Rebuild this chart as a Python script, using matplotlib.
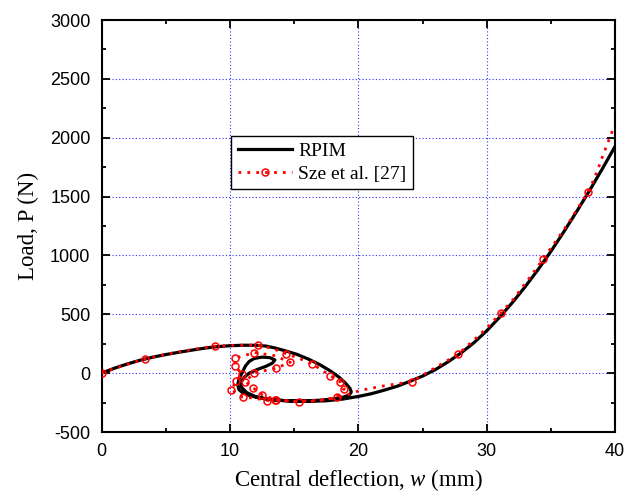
import matplotlib
matplotlib.use('Agg')
from matplotlib import pyplot as plt
from matplotlib.ticker import MultipleLocator

plt.rcParams['mathtext.fontset'] = 'custom'
plt.rcParams['mathtext.it'] = 'Liberation Serif:italic'
plt.rcParams['mathtext.rm'] = 'Liberation Serif'
plt.rcParams['axes.unicode_minus'] = False

# RPIM solution (black solid line)
rpim_w = [0, 1, 2, 3, 4, 5, 6, 7, 8, 9, 10, 11, 12, 12.8, 13.5, 14.3, 15.2, 16.1, 17.0, 17.8, 18.5,
          19.0, 19.35, 19.45, 19.3, 18.8, 18.0, 17.0, 16.0, 15.0, 14.0, 13.0, 12.2, 11.5, 11.0, 10.7,
          10.6, 10.7, 10.95, 11.2, 11.5, 11.9, 12.5, 13.1, 13.5, 13.3, 12.8, 12.1, 11.5, 11.1, 10.85,
          10.9, 11.3, 12.0, 13.0, 14.5, 16.0, 17.5, 18.8, 20, 21, 22, 23, 24, 25, 26, 27, 28, 29, 30,
          31, 32, 33, 34, 35, 36, 37, 38, 39, 40]
rpim_p = [0, 42, 78, 110, 136, 158, 177, 195, 212, 225, 233, 237, 237, 230, 214, 190, 160, 120, 72,
          20, -35, -85, -130, -160, -185, -205, -220, -230, -235, -236, -232, -222, -208, -190, -168,
          -140, -100, -50, 5, 60, 100, 125, 136, 132, 112, 85, 58, 30, 0, -35, -80, -120, -165, -200,
          -222, -236, -240, -235, -220, -198, -175, -145, -112, -70, -25, 30, 97, 172, 258, 360, 475,
          600, 735, 880, 1035, 1200, 1372, 1550, 1735, 1927]

# Sze et al. [27] (red dotted line with circles)
sze_w = [0, 1.7, 3.4, 5.2, 7.0, 8.8, 10.5, 12.2, 13.3, 14.4, 15.4, 16.4, 17.1, 17.8, 18.6, 18.9,
         18.3, 16.9, 15.4, 13.5, 12.9, 11.9, 11.0, 10.1, 10.5, 10.9, 10.4, 10.4, 11.9, 13.4, 14.7,
         13.6, 11.9, 11.2, 11.8, 12.5, 13.6, 15.0, 16.5, 17.8, 19.0, 20.1, 21.0, 22.0, 23.0, 24.2,
         25.5, 26.6, 27.8, 29.1, 30.0, 31.1, 32.1, 33.5, 34.4, 35.2, 36.5, 37.1, 37.9, 38.4, 38.75,
         39.1, 39.8]
sze_p = [0, 65, 121, 165, 200, 229, 238, 237, 210, 164, 125, 79, 30, -20, -76, -133, -204, -236,
         -244, -227, -233, -212, -204, -140, -67, -6, 62, 127, 175, 150, 93, 42, 3, -71, -125, -184,
         -227, -238, -232, -220, -190, -148, -128, -108, -91, -71, 15, 85, 164, 291, 382, 510, 631,
         835, 971, 1093, 1296, 1402, 1538, 1660, 1760, 1864, 2062]
sze_marks = [0, 2, 5, 7, 9, 11, 13, 14, 15, 16, 18, 19, 20, 22, 23, 24, 25, 26, 27, 28, 30, 31, 32,
             33, 34, 35, 36, 45, 48, 51, 54, 58]

fig = plt.figure(figsize=(6.35, 4.94), dpi=100)
ax = fig.add_axes((0.16, 0.1255, 0.8087, 0.834))

ax.plot(rpim_w, rpim_p, color='black', lw=2.3, label='RPIM', zorder=3)
ax.plot(sze_w, sze_p, color='red', lw=2, linestyle=(0, (1, 2.2)), marker='o', markersize=5,
        markerfacecolor='none', markeredgecolor='red', markeredgewidth=1.1, markevery=sze_marks,
        label='Sze et al. [27]', zorder=4)

ax.set_xlim(0, 40)
ax.set_ylim(-500, 3000)
ax.xaxis.set_major_locator(MultipleLocator(10))
ax.xaxis.set_minor_locator(MultipleLocator(5))
ax.yaxis.set_major_locator(MultipleLocator(500))
ax.yaxis.set_minor_locator(MultipleLocator(250))
ax.grid(True, which='major', color='#3333ff', linestyle=(0, (1, 2)), lw=0.8)
ax.tick_params(which='both', direction='in', top=True, right=True, width=1.3,
               labelsize=13, pad=8)
ax.tick_params(which='major', length=5.5)
ax.tick_params(which='minor', length=3)
for lab in ax.get_xticklabels() + ax.get_yticklabels():
    lab.set_family('Liberation Sans')
for sp in ax.spines.values():
    sp.set_linewidth(1.5)

ax.set_xlabel('Central deflection, $w$ (mm)', family='Liberation Serif', fontsize=16.5, labelpad=5)
ax.set_ylabel('Load, P (N)', family='Liberation Serif', fontsize=16.5, labelpad=8)

leg = ax.legend(loc='upper left', bbox_to_anchor=(0.252, 0.719), borderaxespad=0,
                prop={'family': 'Liberation Serif', 'size': 14}, fancybox=False,
                edgecolor='black', framealpha=1, handlelength=2.8, handletextpad=0.3,
                borderpad=0.35, labelspacing=0.25)
leg.get_frame().set_linewidth(1.0)

fig.savefig('out.png', dpi=100)
